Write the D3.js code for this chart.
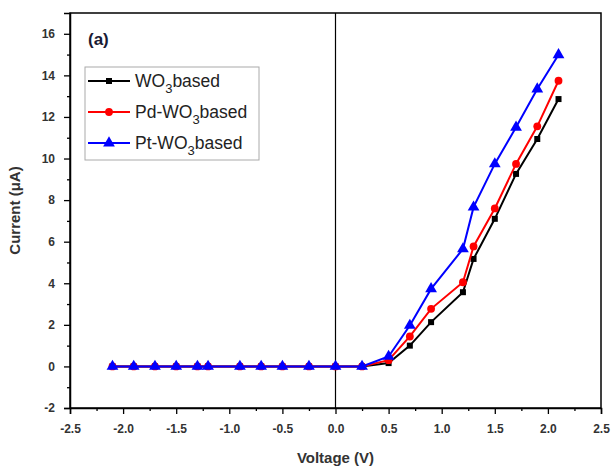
<!DOCTYPE html>
<html>
<head>
<meta charset="utf-8">
<script src="https://cdn.jsdelivr.net/npm/d3@7"></script>
<style>
  body { margin: 0; background: #fff; }
  text { font-family: "Liberation Sans", Arial, sans-serif; }
</style>
</head>
<body>
<div id="chart"></div>
<script>
// voltage points (V)
var voltage = [-2.1, -1.9, -1.7, -1.5, -1.3, -1.2, -0.9, -0.7, -0.5, -0.25, 0, 0.25, 0.5, 0.7, 0.9, 1.2, 1.3, 1.5, 1.7, 1.9, 2.1];
// current (uA)
var wo3 = [0, 0, 0, 0, 0, 0, 0, 0, 0, 0, 0, 0, 0.16, 1.0, 2.13, 3.57, 5.17, 7.1, 9.26, 10.94, 12.86];
var pdWo3 = [0, 0, 0, 0, 0, 0, 0, 0, 0, 0, 0, 0, 0.3, 1.44, 2.77, 4.05, 5.77, 7.6, 9.74, 11.55, 13.74];
var ptWo3 = [0, 0, 0, 0, 0, 0, 0, 0, 0, 0, 0, 0, 0.48, 1.97, 3.73, 5.65, 7.66, 9.74, 11.5, 13.34, 14.99];
var seriesNames = ["WO3based", "Pd-WO3based", "Pt-WO3based"];
var xTicks = [-2.5, -2.0, -1.5, -1.0, -0.5, 0.0, 0.5, 1.0, 1.5, 2.0, 2.5];
var yTicks = [-2, 0, 2, 4, 6, 8, 10, 12, 14, 16];

var W = 611, H = 468;
var margin = {top: 13, right: 10, bottom: 60, left: 70};
var width = W - margin.left - margin.right,
    height = H - margin.top - margin.bottom;

var svg = d3.select("#chart").append("svg")
  .attr("width", W).attr("height", H)
  .append("g")
  .attr("transform", "translate(" + margin.left + "," + margin.top + ")");

var x = d3.scaleLinear().domain([-2.5, 2.5]).range([0, width]);
var y = d3.scaleLinear().domain([-2, 17]).range([height, 0]);

// plain hyphen minus like the original
var fmtX = function(d) { return d.toFixed(1); };
var fmtY = function(d) { return String(d); };

// frame
svg.append("rect")
  .attr("width", width).attr("height", height)
  .style("fill", "none").style("stroke", "#000").style("stroke-width", 1.5);

// zero line
svg.append("line")
  .attr("x1", x(0)).attr("x2", x(0)).attr("y1", 0).attr("y2", height)
  .style("stroke", "#000").style("stroke-width", 1.2);

// axes
var xAxis = svg.append("g").attr("transform", "translate(0," + height + ")")
  .call(d3.axisBottom(x).tickValues(xTicks).tickFormat(fmtX).tickSize(6).tickPadding(10));
svg.append("g").attr("transform", "translate(0," + height + ")")
  .call(d3.axisBottom(x).tickValues(d3.range(-2.25, 2.5, 0.5)).tickFormat("").tickSize(3))
  .select(".domain").remove();
var yAxis = svg.append("g")
  .call(d3.axisLeft(y).tickValues(yTicks).tickFormat(fmtY).tickSize(6).tickPadding(9));
svg.append("g")
  .call(d3.axisLeft(y).tickValues(d3.range(-1, 17, 2)).tickFormat("").tickSize(3))
  .select(".domain").remove();

svg.selectAll(".domain").style("stroke-width", 1.5);
svg.selectAll(".tick line").style("stroke-width", 1.3);
xAxis.selectAll("text").style("font-size", "12px").style("font-weight", "bold").style("fill", "#333");
yAxis.selectAll("text").style("font-size", "12px").style("font-weight", "bold").style("fill", "#333");

// axis labels
svg.append("text")
  .attr("x", x(0)).attr("y", height + 55)
  .attr("text-anchor", "middle")
  .style("font-size", "15px").style("font-weight", "bold").style("fill", "#333")
  .text("Voltage (V)");
svg.append("text")
  .attr("transform", "translate(-50," + (height / 2) + ") rotate(-90)")
  .attr("text-anchor", "middle")
  .style("font-size", "15px").style("font-weight", "bold").style("fill", "#333")
  .text("Current (\u03bcA)");

// series
var colors = ["#000000", "#ff0000", "#0000ff"];
var shapes = [d3.symbolSquare, d3.symbolCircle, d3.symbolTriangle];
var sizes = [36, 48, 60];
var allData = [wo3, pdWo3, ptWo3];

var line = d3.line()
  .x(function(d) { return x(d[0]); })
  .y(function(d) { return y(d[1]); });

allData.forEach(function(vals, i) {
  var pts = voltage.map(function(v, j) { return [v, vals[j]]; });
  svg.append("path")
    .datum(pts)
    .attr("d", line)
    .style("fill", "none")
    .style("stroke", colors[i])
    .style("stroke-width", 2);
  svg.selectAll(".pt" + i)
    .data(pts).enter()
    .append("path")
    .attr("class", "pt" + i)
    .attr("transform", function(d) { return "translate(" + x(d[0]) + "," + y(d[1]) + ")"; })
    .attr("d", d3.symbol().type(shapes[i]).size(sizes[i]))
    .style("fill", colors[i]);
});

// panel label
svg.append("text")
  .attr("x", 18).attr("y", 32)
  .style("font-size", "17px").style("font-weight", "bold").style("fill", "#1a1a33")
  .text("(a)");

// legend
var lg = svg.append("g").attr("transform", "translate(15,54)");
lg.append("rect")
  .attr("width", 174).attr("height", 93)
  .style("fill", "#fff").style("stroke", "#aaa").style("stroke-width", 1);
seriesNames.forEach(function(name, i) {
  var ly = 14 + i * 31;
  lg.append("line")
    .attr("x1", 3).attr("x2", 45).attr("y1", ly).attr("y2", ly)
    .style("stroke", colors[i]).style("stroke-width", 2);
  lg.append("path")
    .attr("transform", "translate(24," + ly + ")")
    .attr("d", d3.symbol().type(shapes[i]).size(sizes[i]))
    .style("fill", colors[i]);
  var t = lg.append("text")
    .attr("x", 50).attr("y", ly + 6)
    .style("font-size", "17.5px").style("fill", "#222");
  var parts = name.split("3");
  t.append("tspan").text(parts[0]);
  t.append("tspan").attr("dy", 6).style("font-size", "13px").text("3");
  t.append("tspan").attr("dy", -6).text(parts[1]);
});
</script>
</body>
</html>
